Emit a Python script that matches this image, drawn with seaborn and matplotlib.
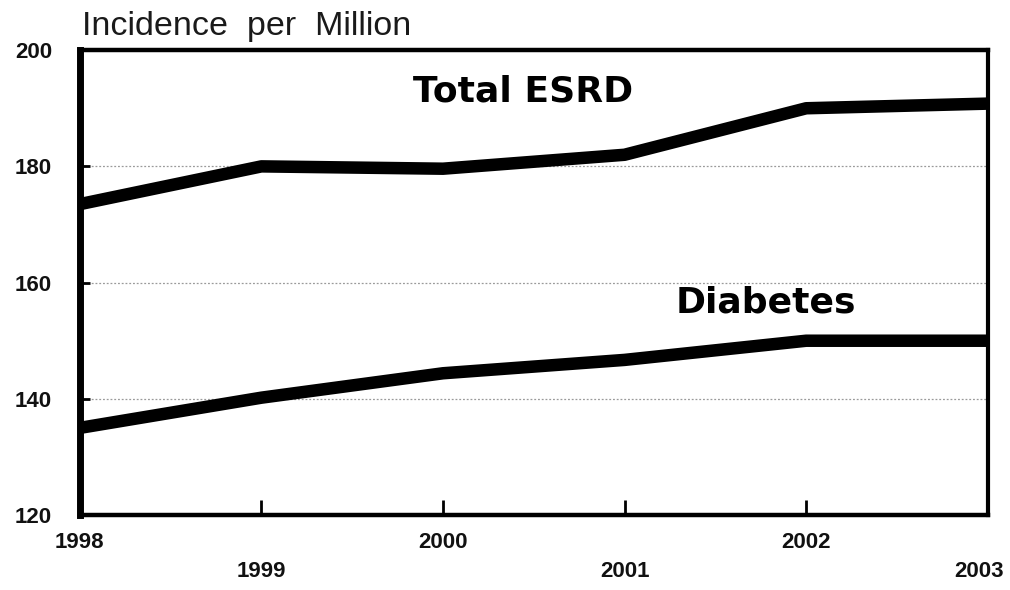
import matplotlib
matplotlib.use("Agg")
import matplotlib.pyplot as plt
import matplotlib.transforms as mtransforms
import seaborn as sns
import pandas as pd

# Incidence of end-stage renal disease per million population
years = [1998, 1999, 2000, 2001, 2002, 2003]
total_esrd = [173.5, 180.0, 179.6, 182.0, 190.0, 190.8]
diabetes = [135.0, 140.2, 144.4, 146.7, 150.0, 150.0]
series_names = ["Total ESRD", "Diabetes"]
y_ticks = [120, 140, 160, 180, 200]

df = pd.DataFrame({
    "year": years * 2,
    "rate": total_esrd + diabetes,
    "series": [series_names[0]] * len(years) + [series_names[1]] * len(years),
})

sns.set_style("white")
plt.rcParams["font.family"] = ["Liberation Sans", "DejaVu Sans"]

fig = plt.figure(figsize=(10.1, 5.9), dpi=100)
ax = fig.add_axes([0.079, 0.127, 0.899, 0.788])

sns.lineplot(data=df, x="year", y="rate", hue="series",
             palette=["black", "black"], linewidth=9, legend=False,
             ax=ax, solid_joinstyle="round", solid_capstyle="butt")

ax.set_xlim(1998, 2003)
ax.set_ylim(120, 200)
ax.set_xlabel("")
ax.set_ylabel("")

# frame
for side, w in [("left", 5), ("bottom", 3.2), ("top", 3.2), ("right", 3)]:
    ax.spines[side].set_visible(True)
    ax.spines[side].set_color("black")
    ax.spines[side].set_linewidth(w)

# dotted horizontal gridlines
ax.set_yticks(y_ticks)
ax.yaxis.grid(True, linestyle=(0, (1.5, 1.5)), color="#9a9a9a", linewidth=0.9)
ax.xaxis.grid(False)

ax.tick_params(axis="y", direction="in", length=7, width=2, pad=20,
               labelsize=16, left=True, colors="black")
ax.tick_params(axis="x", direction="in", length=11, width=2, pad=12,
               labelsize=16, bottom=True, colors="black")
ax.set_xticks(years)
ax.set_xticklabels([str(y) for y in years])
for lab in ax.get_xticklabels() + ax.get_yticklabels():
    lab.set_fontweight("bold")
    lab.set_color("#111111")

# staggered year labels
for i, tick in enumerate(ax.xaxis.get_major_ticks()):
    if i % 2 == 1:
        tick.set_pad(33)

# keep the last year label inside the figure
last = ax.get_xticklabels()[-1]
last.set_transform(last.get_transform()
                   + mtransforms.ScaledTranslation(-6 / 72, 0, fig.dpi_scale_trans))

# series labels
label_font = ["DejaVu Sans"]
ax.text(2000.44, 192.8, "Total ESRD", fontsize=26, fontweight="bold",
        family=label_font, ha="center", va="center", color="black")
ax.text(2001.78, 156.6, "Diabetes", fontsize=26, fontweight="bold",
        family=label_font, ha="center", va="center", color="black")

fig.text(0.081, 0.955, "Incidence  per  Million", fontsize=24.5,
         ha="left", va="center", color="#1a1a1a")

fig.savefig("out.png", dpi=100, facecolor="white")
